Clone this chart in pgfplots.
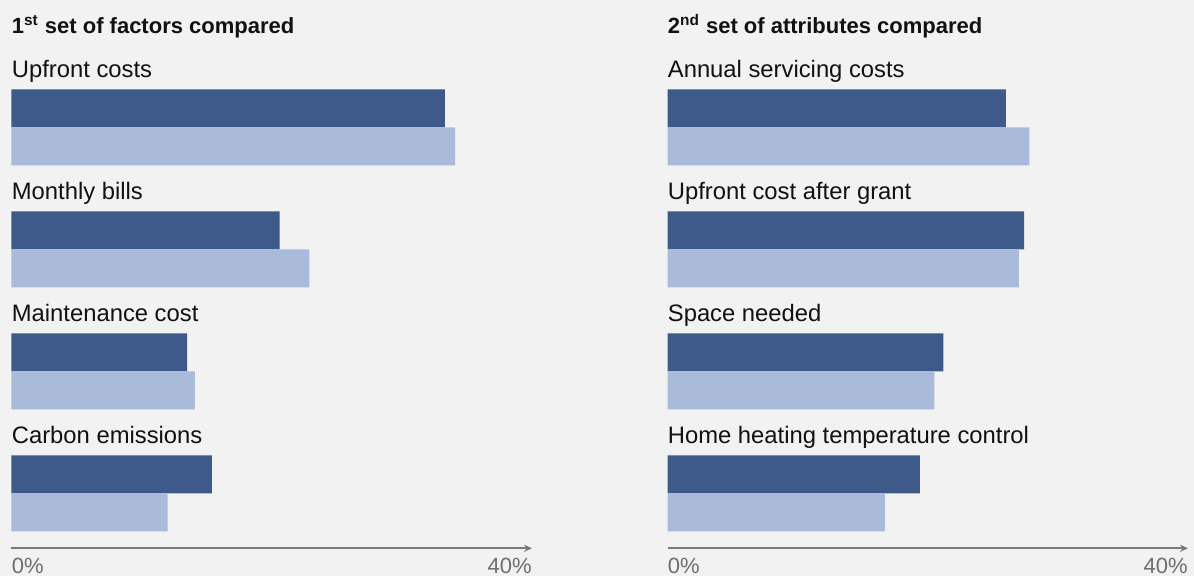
\documentclass[border=0pt]{standalone}
\usepackage{fontspec}
\setmainfont{Liberation Sans}
\usepackage{pgfplots}
\pgfplotsset{compat=1.18}
\usetikzlibrary{arrows.meta}
\definecolor{bg}{HTML}{F2F2F2}
\definecolor{darkbar}{HTML}{3D5A8A}
\definecolor{lightbar}{HTML}{A9BBD8}
\definecolor{axgray}{HTML}{7A7A7A}
\definecolor{labgray}{HTML}{6E6E6E}
\definecolor{txt}{HTML}{111111}
\tikzset{
  cat/.style={anchor=base west, inner sep=0pt, text=txt, font=\fontsize{11.9}{13}\selectfont},
  ttl/.style={anchor=base west, inner sep=0pt, text=txt, font=\fontsize{11}{13}\selectfont\bfseries},
}
\pgfplotsset{
  panel/.style={
    width=260.25pt, height=274.15pt, scale only axis,
    xmin=0, xmax=40, ymin=-548.3, ymax=0,
    clip=false,
    axis x line=bottom, axis y line=none,
    x axis line style={draw=axgray, line width=0.8pt, -{Stealth[length=4pt,width=3.6pt]}},
    major tick length=0pt,
    xtick={0}, xticklabels={0\%},
    xticklabel style={anchor=base west, inner sep=0pt, yshift=-12.4pt,
      font=\fontsize{11}{11}\selectfont, text=labgray},
    extra x ticks={40}, extra x tick labels={40\%},
    extra x tick style={xticklabel style={anchor=base east}},
    ytick=\empty,
  },
  darkplot/.style={xbar, bar shift=0pt, bar width=38, fill=darkbar, draw=none},
  lightplot/.style={xbar, bar shift=0pt, bar width=38, fill=lightbar, draw=none},
}
\begin{document}
\begin{tikzpicture}
\useasboundingbox (0,0) rectangle (597pt,288pt);
\fill[bg] (0,0) rectangle (597pt,288pt);
% Left panel
\begin{axis}[panel, at={(5.75pt,288pt)}, anchor=north west]
\addplot[darkplot] coordinates {(33.3,-108.3) (20.6,-230.3) (13.5,-352.3) (15.4,-474.3)};
\addplot[lightplot] coordinates {(34.1,-146.3) (22.9,-268.3) (14.1,-390.3) (12.0,-512.3)};
\node[ttl] at (axis cs:0,-33.3) {1\textsuperscript{st} set of factors compared};
\node[cat] at (axis cs:0,-77.3) {Upfront costs};
\node[cat] at (axis cs:0,-199.3) {Monthly bills};
\node[cat] at (axis cs:0,-321.3) {Maintenance cost};
\node[cat] at (axis cs:0,-443.3) {Carbon emissions};
\end{axis}
% Right panel
\begin{axis}[panel, at={(333.75pt,288pt)}, anchor=north west]
\addplot[darkplot] coordinates {(26.0,-108.3) (27.4,-230.3) (21.2,-352.3) (19.4,-474.3)};
\addplot[lightplot] coordinates {(27.8,-146.3) (27.0,-268.3) (20.5,-390.3) (16.7,-512.3)};
\node[ttl] at (axis cs:0,-33.3) {2\textsuperscript{nd} set of attributes compared};
\node[cat] at (axis cs:0,-77.3) {Annual servicing costs};
\node[cat] at (axis cs:0,-199.3) {Upfront cost after grant};
\node[cat] at (axis cs:0,-321.3) {Space needed};
\node[cat] at (axis cs:0,-443.3) {Home heating temperature control};
\end{axis}
\end{tikzpicture}
\end{document}
